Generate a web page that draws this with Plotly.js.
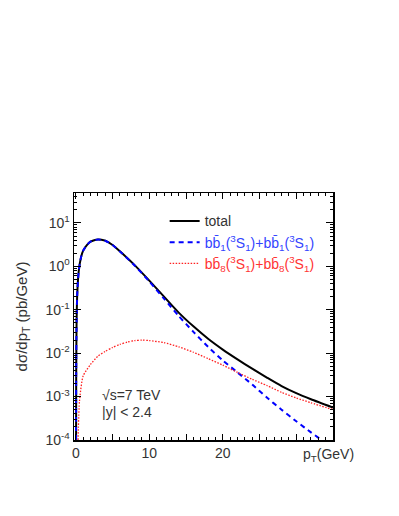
<!DOCTYPE html>
<html>
<head>
<meta charset="utf-8">
<script src="https://cdn.plot.ly/plotly-3.0.1.min.js"></script>
<style>
  html, body { margin: 0; padding: 0; background: #fff; }
  #chart { width: 399px; height: 516px; }
</style>
</head>
<body>
<div id="chart"></div>
<script>
// pT values (GeV) and dsigma/dpT (pb/GeV)
const ptSinglet = [0.03, 0.05, 0.1, 0.2, 0.4, 0.7, 1.0, 1.5, 2.0, 2.5, 3.0, 3.5, 4, 5, 6, 8, 10, 12, 14, 16, 18, 20, 22, 24, 26, 28, 30, 32, 34, 35];
const singlet   = [1e-4, 0.003, 0.05, 0.25, 0.8, 1.6, 2.3, 3.1, 3.7, 4.0, 4.15, 4.1, 3.9, 3.1, 2.2, 1.05, 0.45, 0.18, 0.072, 0.031, 0.014, 0.0068, 0.0036, 0.0019, 0.00095, 0.0005, 0.00027, 0.00015, 0.000085, 0.00006];

const ptOctet = [0.3, 0.5, 1.0, 2.0, 3.0, 4.0, 5.0, 6.0, 7.0, 8.0, 9.0, 10, 12, 14, 16, 18, 20, 22, 24, 26, 28, 30, 32, 35];
const octet   = [1e-4, 0.0008, 0.003, 0.0055, 0.0085, 0.011, 0.0135, 0.016, 0.018, 0.0195, 0.02, 0.0195, 0.0175, 0.014, 0.0105, 0.0075, 0.0053, 0.0036, 0.0025, 0.0018, 0.00125, 0.00093, 0.00072, 0.0005];

const ptTotal = [0.03, 0.05, 0.1, 0.2, 0.4, 0.7, 1.0, 1.5, 2.0, 2.5, 3.0, 3.5, 4, 5, 6, 8, 10, 12, 14, 16, 18, 20, 22, 24, 26, 28, 30, 32, 35];
const total   = [1e-4, 0.003, 0.05, 0.25, 0.8, 1.6, 2.3, 3.1, 3.71, 4.01, 4.16, 4.11, 3.91, 3.11, 2.22, 1.07, 0.47, 0.2, 0.086, 0.0415, 0.0215, 0.0121, 0.0072, 0.0044, 0.00275, 0.00175, 0.0012, 0.00087, 0.00056];

const xTickVals = [0, 5, 10, 15, 20, 25, 30];
const xTickText = ['0', '', '10', '', '20', '', ''];
const yTickVals = [1e-4, 1e-3, 1e-2, 1e-1, 1, 10];
const yTickText = ['10<sup>-4</sup>', '10<sup>-3</sup>', '10<sup>-2</sup>', '10<sup>-1</sup>', '10<sup>0</sup>', '10<sup>1</sup>'];

const labelFont = { family: 'Liberation Sans, Arial, sans-serif', size: 14, color: '#333' };

const traces = [
  {
    x: ptTotal, y: total, type: 'scatter', mode: 'lines',
    name: 'total',
    line: { color: '#000', width: 2, shape: 'spline', smoothing: 0.6 }
  },
  {
    x: ptSinglet, y: singlet, type: 'scatter', mode: 'lines',
    name: '<span style="color:#3344ff">bb\u0304<sub>1</sub>(<sup>3</sup>S<sub>1</sub>)+bb\u0304<sub>1</sub>(<sup>3</sup>S<sub>1</sub>)</span>',
    line: { color: '#0000ff', width: 2, dash: '5px,4px', shape: 'spline', smoothing: 0.6 }
  },
  {
    x: ptOctet, y: octet, type: 'scatter', mode: 'lines',
    name: '<span style="color:#ff3333">bb\u0304<sub>8</sub>(<sup>3</sup>S<sub>1</sub>)+bb\u0304<sub>8</sub>(<sup>3</sup>S<sub>1</sub>)</span>',
    line: { color: '#ff2020', width: 1.3, dash: '1.5px,1.5px', shape: 'spline', smoothing: 0.6 }
  }
];

const layout = {
  width: 399,
  height: 516,
  margin: { l: 74, r: 66, t: 193, b: 76 },
  paper_bgcolor: '#fff',
  plot_bgcolor: '#fff',
  font: labelFont,
  showlegend: true,
  legend: {
    x: 0.35, y: 0.95, xanchor: 'left', yanchor: 'top',
    bgcolor: 'rgba(0,0,0,0)',
    font: { family: 'Liberation Sans, Arial, sans-serif', size: 14, color: '#333' },
    tracegroupgap: 0,
    itemwidth: 30
  },
  xaxis: {
    range: [-0.25, 35],
    tickvals: xTickVals,
    ticktext: xTickText,
    ticks: 'inside',
    ticklen: 6,
    tickcolor: '#000',
    showline: true,
    linecolor: '#000',
    linewidth: 1.5,
    mirror: 'ticks',
    showgrid: false,
    zeroline: false,
    tickfont: labelFont,
    minor: { dtick: 1, ticks: 'inside', ticklen: 3, tickcolor: '#000', showgrid: false }
  },
  yaxis: {
    type: 'log',
    range: [-4, 1.69],
    tickvals: yTickVals,
    ticktext: yTickText,
    ticks: 'inside',
    ticklen: 7,
    tickcolor: '#000',
    showline: true,
    linecolor: '#000',
    linewidth: 1.5,
    mirror: 'ticks',
    showgrid: false,
    zeroline: false,
    tickfont: labelFont,
    minor: { dtick: 'D1', ticks: 'inside', ticklen: 3, tickcolor: '#000', showgrid: false },
    title: { text: 'd\u03c3/dp<sub>T</sub> (pb/GeV)', font: { family: 'Liberation Sans, Arial, sans-serif', size: 15, color: '#333' }, standoff: 14 }
  },
  annotations: [
    {
      text: '\u221as=7 TeV', xref: 'paper', yref: 'paper',
      x: 0.1, y: 0.182, xanchor: 'left', yanchor: 'middle',
      showarrow: false, font: labelFont
    },
    {
      text: '|y| < 2.4', xref: 'paper', yref: 'paper',
      x: 0.1, y: 0.113, xanchor: 'left', yanchor: 'middle',
      showarrow: false, font: labelFont
    },
    {
      text: 'p<sub>T</sub>(GeV)', xref: 'paper', yref: 'paper',
      x: 1.09, y: 0, xanchor: 'right', yanchor: 'top', yshift: -4,
      showarrow: false, font: labelFont
    }
  ]
};

Plotly.newPlot('chart', traces, layout, { displayModeBar: false, staticPlot: true });
</script>
</body>
</html>
